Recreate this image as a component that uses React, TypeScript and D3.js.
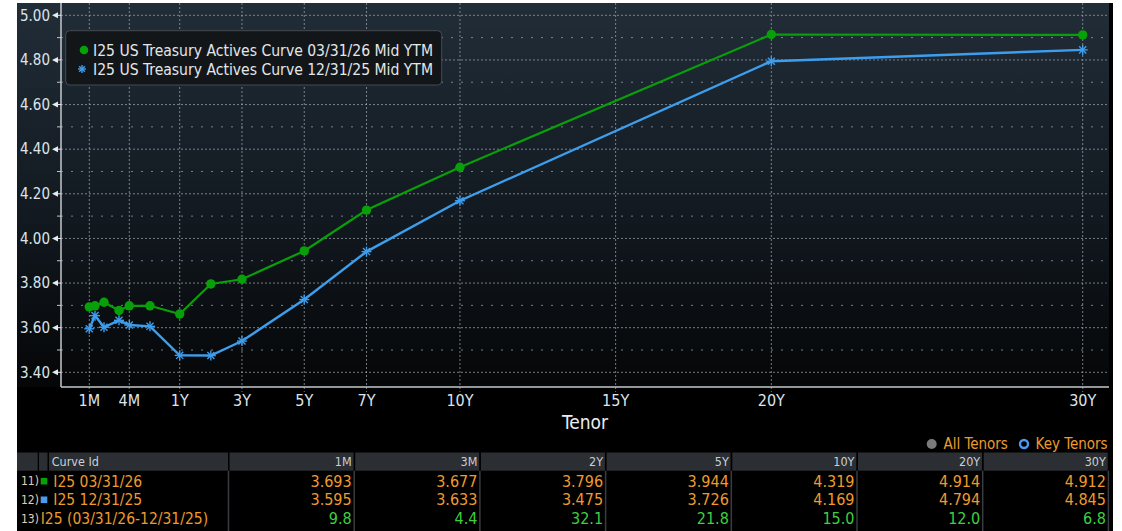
import React from 'react';
import * as d3 from 'd3';

// ---------- data ----------
const TENOR_YEARS = [1 / 12, 1.5 / 12, 2 / 12, 3 / 12, 4 / 12, 6 / 12, 1, 2, 3, 5, 7, 10, 20, 30];
const CURVE_0331 = [3.693, 3.698, 3.714, 3.677, 3.698, 3.698, 3.661, 3.796, 3.817, 3.944, 4.127, 4.319, 4.914, 4.912];
const CURVE_1231 = [3.595, 3.654, 3.602, 3.633, 3.612, 3.606, 3.476, 3.475, 3.540, 3.726, 3.941, 4.169, 4.794, 4.845];

const X_TICK_LABELS = ['1M', '4M', '1Y', '3Y', '5Y', '7Y', '10Y', '15Y', '20Y', '30Y'];
const X_TICK_YEARS = [1 / 12, 4 / 12, 1, 3, 5, 7, 10, 15, 20, 30];
const Y_MAJOR_TICKS = [3.4, 3.6, 3.8, 4.0, 4.2, 4.4, 4.6, 4.8, 5.0];
const Y_MINOR_TICKS = [3.5, 3.7, 3.9, 4.1, 4.3, 4.5, 4.7, 4.9];

const LEGEND_LABELS = [
  'I25 US Treasury Actives Curve 03/31/26 Mid YTM',
  'I25 US Treasury Actives Curve 12/31/25 Mid YTM',
];

const TABLE_TENORS = ['1M', '3M', '2Y', '5Y', '10Y', '20Y', '30Y'];
const ROW_0331 = ['3.693', '3.677', '3.796', '3.944', '4.319', '4.914', '4.912'];
const ROW_1231 = ['3.595', '3.633', '3.475', '3.726', '4.169', '4.794', '4.845'];
const ROW_SPREAD = ['9.8', '4.4', '32.1', '21.8', '15.0', '12.0', '6.8'];
const ROW_NAMES = ['I25 03/31/26', 'I25 12/31/25', 'I25 (03/31/26-12/31/25)'];
const ROW_IDS = ['11)', '12)', '13)'];

// ---------- layout ----------
const W = 1122;
const H = 531;
const FRAME = { x0: 17, y0: 3, x1: 1113, y1: 531 };
const PLOT = { left: 61, right: 1109, top: 3, bottom: 387 };
// tenor axis is stretched at the short end: piecewise-linear stops
const X_DOMAIN_STOPS = [1 / 12, 1.5 / 12, 2 / 12, 3 / 12, 4 / 12, 6 / 12, 1, 30];
const X_RANGE_STOPS = [89.3, 95, 104, 119, 129.3, 150, 179.7, 1082.7];

const GREEN = '#08a008';
const BLUE = '#3d9eee';
const ORANGE = '#ee9a2c';
const VGREEN = '#3fcf3f';
const FONT = "'Liberation Sans Narrow','Arial Narrow','DejaVu Sans Condensed',sans-serif";

const x = d3.scaleLinear().domain(X_DOMAIN_STOPS).range(X_RANGE_STOPS);
const y = d3.scaleLinear().domain([3.4, 5.0]).range([372.3, 15.3]);

const line = d3
  .line<number>()
  .x((_, i) => x(TENOR_YEARS[i]))
  .y((d) => y(d));

function Asterisk({ cx, cy, r, color }: { cx: number; cy: number; r: number; color: string }) {
  const angles = [0, 45, 90, 135];
  return (
    <g>
      {angles.map((a) => {
        const rad = (a * Math.PI) / 180;
        const dx = Math.cos(rad) * r;
        const dy = Math.sin(rad) * r;
        return <line key={a} x1={cx - dx} y1={cy - dy} x2={cx + dx} y2={cy + dy} stroke={color} strokeWidth={1.4} />;
      })}
    </g>
  );
}

export default function App() {
  const dataColX0 = 229.5;
  const dataColW = 125.7;
  const headerY0 = 452.5;
  const headerH = 18.2;
  const rowY = [481.2, 499.8, 518.3];
  const rows = [ROW_0331, ROW_1231, ROW_SPREAD];

  return (
    <svg
      width={W}
      height={H}
      style={{ position: 'fixed', left: 0, top: 0, display: 'block', background: '#ffffff' }}
      fontFamily={FONT}
    >
      <defs>
        <linearGradient id="bg" x1="0" y1="0" x2="0" y2="1">
          <stop offset="0%" stopColor="#212d38" />
          <stop offset="55%" stopColor="#121920" />
          <stop offset="100%" stopColor="#050607" />
        </linearGradient>
      </defs>

      {/* frame */}
      <rect x={FRAME.x0} y={FRAME.y0} width={FRAME.x1 - FRAME.x0} height={FRAME.y1 - FRAME.y0} fill="#000" />
      <rect x={FRAME.x0} y={PLOT.top} width={PLOT.right - FRAME.x0} height={PLOT.bottom - PLOT.top} fill="url(#bg)" />

      {/* horizontal gridlines */}
      {Y_MINOR_TICKS.map((v) => (
        <line key={'mn' + v} x1={PLOT.left} x2={PLOT.right} y1={y(v)} y2={y(v)} stroke="#9aa2aa" strokeOpacity={0.75} strokeWidth={1} strokeDasharray="2,8" />
      ))}
      {Y_MAJOR_TICKS.map((v) => (
        <line key={'mj' + v} x1={PLOT.left} x2={PLOT.right} y1={y(v)} y2={y(v)} stroke="#9aa2aa" strokeOpacity={0.75} strokeWidth={1} strokeDasharray="2,2" />
      ))}
      {/* vertical gridlines */}
      {X_TICK_YEARS.map((t) => (
        <line key={'vx' + t} x1={x(t)} x2={x(t)} y1={PLOT.top} y2={PLOT.bottom + 5} stroke="#9aa2aa" strokeOpacity={0.75} strokeWidth={1} strokeDasharray="2,2" />
      ))}

      {/* axes */}
      <line x1={PLOT.left} x2={PLOT.left} y1={PLOT.top} y2={PLOT.bottom} stroke="#c4c8cc" strokeWidth={1.5} />
      <line x1={PLOT.left} x2={PLOT.right} y1={PLOT.bottom} y2={PLOT.bottom} stroke="#c4c8cc" strokeWidth={1.5} />

      {/* y ticks */}
      {Y_MINOR_TICKS.map((v) => (
        <line key={'ymt' + v} x1={PLOT.left - 4} x2={PLOT.left} y1={y(v)} y2={y(v)} stroke="#c4c8cc" strokeWidth={1} />
      ))}
      {Y_MAJOR_TICKS.map((v) => (
        <g key={'yt' + v}>
          <path d={`M${PLOT.left - 9},${y(v)} L${PLOT.left - 3},${y(v) - 3} L${PLOT.left - 3},${y(v) + 3} Z`} fill="#e6ebf0" />
          <line x1={PLOT.left - 3} x2={PLOT.left} y1={y(v)} y2={y(v)} stroke="#e6ebf0" strokeWidth={1} />
          <text x={PLOT.left - 11} y={y(v)} dy="0.35em" textAnchor="end" fontSize={15} fill="#dde4ea">
            {d3.format('.2f')(v)}
          </text>
        </g>
      ))}

      {/* x tick labels */}
      {X_TICK_YEARS.map((t, i) => (
        <text key={'xl' + t} x={x(t)} y={400.5} dy="0.35em" textAnchor="middle" fontSize={16} fill="#dde4ea">
          {X_TICK_LABELS[i]}
        </text>
      ))}
      <text x={585} y={422} dy="0.35em" textAnchor="middle" fontSize={19} fill="#e8eef2">
        Tenor
      </text>

      {/* series */}
      <path d={line(CURVE_1231) || ''} fill="none" stroke={BLUE} strokeWidth={2.4} />
      <path d={line(CURVE_0331) || ''} fill="none" stroke={GREEN} strokeWidth={2.2} />
      {CURVE_1231.map((v, i) => (
        <Asterisk key={'b' + i} cx={x(TENOR_YEARS[i])} cy={y(v)} r={5} color={BLUE} />
      ))}
      {CURVE_0331.map((v, i) => (
        <circle key={'g' + i} cx={x(TENOR_YEARS[i])} cy={y(v)} r={4.7} fill={GREEN} />
      ))}

      {/* legend */}
      <rect x={65.7} y={30.7} width={376} height={54.3} rx={4} fill="#131619" stroke="#454b51" strokeWidth={1} />
      <circle cx={84} cy={50} r={4.3} fill={GREEN} />
      <Asterisk cx={82} cy={69} r={4} color={BLUE} />
      {LEGEND_LABELS.map((s, i) => (
        <text key={s} x={93} y={50 + i * 19} dy="0.35em" fontSize={16} fill="#e4e6e8" textLength={340} lengthAdjust="spacingAndGlyphs">
          {s}
        </text>
      ))}

      {/* All / Key tenors */}
      <circle cx={931.7} cy={444} r={5} fill="#7b7b7b" />
      <text x={943.5} y={444} dy="0.35em" fontSize={15} fill={ORANGE}>All Tenors</text>
      <circle cx={1024} cy={444} r={4} fill="none" stroke="#4a9af0" strokeWidth={2.4} />
      <text x={1035.6} y={444} dy="0.35em" fontSize={15} fill={ORANGE}>Key Tenors</text>

      {/* table header */}
      <rect x={17} y={headerY0} width={20.7} height={headerH} fill="#2b2e32" />
      <rect x={39} y={headerY0} width={8.5} height={headerH} fill="#2b2e32" />
      <rect x={49} y={headerY0} width={179} height={headerH} fill="#2b2e32" />
      <text x={51.7} y={headerY0 + headerH / 2} dy="0.35em" fontSize={12.5} fill="#c8d0d8">Curve Id</text>
      {TABLE_TENORS.map((s, i) => (
        <g key={'h' + s}>
          <rect x={dataColX0 + i * dataColW} y={headerY0} width={dataColW - 1.7} height={headerH} fill="#2b2e32" />
          <text x={dataColX0 + (i + 1) * dataColW - 3.5} y={headerY0 + headerH / 2} dy="0.35em" textAnchor="end" fontSize={12.5} fill="#c8d0d8">
            {s}
          </text>
        </g>
      ))}
      {/* column separators */}
      {d3.range(8).map((i) => (
        <line key={'sep' + i} x1={dataColX0 - 1 + i * dataColW} x2={dataColX0 - 1 + i * dataColW} y1={headerY0 + headerH} y2={H} stroke="#393c40" strokeWidth={1.5} />
      ))}

      {/* table rows */}
      {rows.map((vals, r) => (
        <g key={'row' + r}>
          <text x={21} y={rowY[r]} dy="0.35em" fontSize={12} fill="#e2cdb0">{ROW_IDS[r]}</text>
          {r < 2 && <rect x={40.7} y={rowY[r] - 3.3} width={6.6} height={6.6} fill={r === 0 ? GREEN : '#4a9af0'} />}
          <text x={r < 2 ? 53.3 : 40.7} y={rowY[r]} dy="0.35em" fontSize={15.5} fill={ORANGE}>{ROW_NAMES[r]}</text>
          {vals.map((v, i) => (
            <text key={i} x={dataColX0 + (i + 1) * dataColW - 3.5} y={rowY[r]} dy="0.35em" textAnchor="end" fontSize={16} fill={r < 2 ? ORANGE : VGREEN}>
              {v}
            </text>
          ))}
        </g>
      ))}
    </svg>
  );
}
